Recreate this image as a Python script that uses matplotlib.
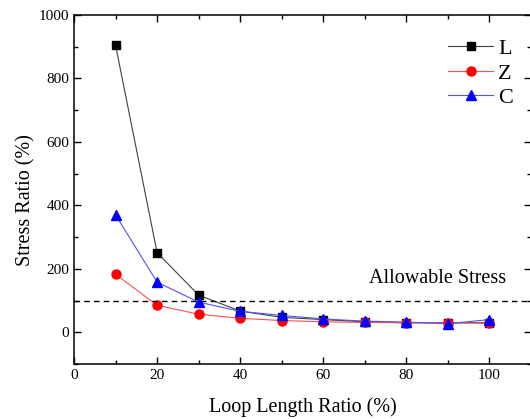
import matplotlib
matplotlib.use("Agg")
import matplotlib.pyplot as plt
from matplotlib.ticker import MultipleLocator

x = [10, 20, 30, 40, 50, 60, 70, 80, 90, 100]
L = [905, 251, 117, 67, 47, 40, 33, 30, 30, 30]
Z = [183, 85, 57, 44, 37, 33, 31, 30, 30, 28]
C = [370, 158, 95, 66, 53, 42, 35, 32, 27, 40]
allowable = 100

plt.rcParams['font.family'] = ['Liberation Serif', 'DejaVu Serif']
plt.rcParams['mathtext.fontset'] = 'stix'

fig = plt.figure(figsize=(5.30, 4.19), dpi=100)
ax = fig.add_axes([74/530, 1 - 364/419, (531 - 74)/530, (364 - 15)/419])

ax.plot(x, L, color='#404040', lw=0.8, marker='s', ms=5.5, mfc='black', mec='black', label='L')
ax.plot(x, Z, color='#ff5050', lw=0.8, marker='o', ms=6.5, mfc='red', mec='red', label='Z')
ax.plot(x, C, color='#5050ff', lw=0.8, marker='^', ms=7.5, mfc='blue', mec='blue', label='C')
ax.axhline(allowable, color='black', lw=1.0, ls=(0, (4, 3)))
ax.text(104, 168, 'Allowable Stress', fontsize=14.5, ha='right', va='center')

ax.set_xlim(0, 110)
ax.set_ylim(-100, 1000)
ax.xaxis.set_major_locator(MultipleLocator(20))
ax.xaxis.set_minor_locator(MultipleLocator(10))
ax.yaxis.set_major_locator(MultipleLocator(200))
ax.yaxis.set_minor_locator(MultipleLocator(100))
ax.set_xticks([0, 20, 40, 60, 80, 100])
ax.tick_params(which='both', direction='in', top=True, right=True, labelsize=11)
ax.tick_params(which='major', length=5, width=1)
ax.tick_params(which='minor', length=3, width=1)
for s in ax.spines.values():
    s.set_linewidth(1.1)

ax.set_xlabel('Loop Length Ratio (%)', fontsize=14.5, labelpad=11)
ax.set_ylabel('Stress Ratio (%)', fontsize=14.5)
ax.yaxis.set_label_coords(-0.085, 0.47)

leg = ax.legend(loc='upper right', bbox_to_anchor=(1.005, 0.99), frameon=False,
                fontsize=16, handlelength=2.0, handletextpad=0.25, labelspacing=0.18)

fig.savefig('out.png', dpi=100)
